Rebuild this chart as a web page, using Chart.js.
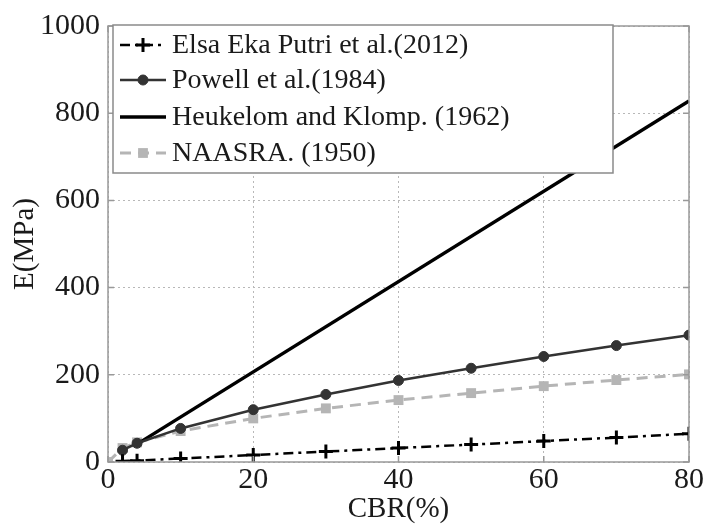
<!DOCTYPE html>
<html lang="en">
<head>
  <meta charset="UTF-8" />
  <title>E vs CBR</title>
  <script src="https://cdn.jsdelivr.net/npm/chart.js"></script>
  <style>
    html, body { margin: 0; padding: 0; background: #fff; }
    #wrap { width: 707px; height: 530px; }
  </style>
</head>
<body>
<div id="wrap"><canvas id="chart" width="707" height="530"></canvas></div>
<script>
// CBR (%) values
const cbrElsa = [2, 4, 10, 20, 30, 40, 50, 60, 70, 80];
const eElsa = [2, 3, 8, 16, 24, 32, 40, 48, 56, 65];

const cbrPowell = [2, 4, 10, 20, 30, 40, 50, 60, 70, 80];
const ePowell = [27, 43, 77, 120, 155, 187, 215, 242, 267, 291];

const cbrHeuk = [4, 80];
const eHeuk = [41, 828];

const cbrNaasra = [0, 2, 4, 10, 20, 30, 40, 50, 60, 70, 80];
const eNaasra = [0, 32, 45, 71, 100, 123, 142, 158, 174, 188, 201];

const xTicks = [0, 20, 40, 60, 80];
const yTicks = [0, 200, 400, 600, 800, 1000];

const FONT = '"Liberation Serif", "Times New Roman", serif';

function pts(xs, ys) {
  return xs.map((x, i) => ({ x: x, y: ys[i] }));
}

// legend box drawn inside the plot (matlab style)
const boxLegend = {
  id: 'boxLegend',
  afterDraw(chart) {
    const ctx = chart.ctx;
    const x0 = 113, y0 = 25, w = 500, h = 148;
    ctx.save();
    ctx.fillStyle = '#fff';
    ctx.fillRect(x0, y0, w, h);
    ctx.strokeStyle = '#8a8a8a';
    ctx.lineWidth = 1.5;
    ctx.strokeRect(x0, y0, w, h);
    const rows = [45, 80, 117, 153];
    chart.data.datasets.forEach((ds, i) => {
      const y = rows[i];
      ctx.save();
      ctx.strokeStyle = ds.borderColor;
      ctx.lineWidth = ds.borderWidth;
      ctx.setLineDash(ds.borderDash || []);
      ctx.beginPath();
      ctx.moveTo(120, y);
      ctx.lineTo(166, y);
      ctx.stroke();
      ctx.restore();
      if (ds.pointRadius > 0) {
        ctx.fillStyle = ds.pointBackgroundColor;
        ctx.strokeStyle = ds.pointBorderColor;
        ctx.lineWidth = ds.pointBorderWidth || 1;
        ctx.setLineDash([]);
        ctx.beginPath();
        if (ds.pointStyle === 'circle') {
          ctx.arc(143, y, ds.pointRadius, 0, Math.PI * 2);
          ctx.fill(); ctx.stroke();
        } else if (ds.pointStyle === 'rect') {
          const r = ds.pointRadius * 0.7;
          ctx.fillRect(143 - r, y - r, 2 * r, 2 * r);
        } else {
          ctx.moveTo(143 - ds.pointRadius, y); ctx.lineTo(143 + ds.pointRadius, y);
          ctx.moveTo(143, y - ds.pointRadius); ctx.lineTo(143, y + ds.pointRadius);
          ctx.stroke();
        }
      }
      ctx.fillStyle = '#1a1a1a';
      ctx.font = '28px ' + FONT;
      ctx.textBaseline = 'middle';
      ctx.textAlign = 'left';
      ctx.fillText(ds.label, 172, y + 1);
    });
    ctx.restore();
  }
};

// grey frame round the plot with small inward ticks
const frame = {
  id: 'frame',
  afterDatasetsDraw(chart) {
    const a = chart.chartArea, ctx = chart.ctx;
    const xs = chart.scales.x, ys = chart.scales.y;
    ctx.save();
    ctx.strokeStyle = '#999';
    ctx.lineWidth = 1.5;
    ctx.strokeRect(a.left, a.top, a.right - a.left, a.bottom - a.top);
    ctx.beginPath();
    xTicks.forEach(v => {
      const px = xs.getPixelForValue(v);
      ctx.moveTo(px, a.bottom); ctx.lineTo(px, a.bottom - 6);
      ctx.moveTo(px, a.top); ctx.lineTo(px, a.top + 6);
    });
    yTicks.forEach(v => {
      const py = ys.getPixelForValue(v);
      ctx.moveTo(a.left, py); ctx.lineTo(a.left + 6, py);
      ctx.moveTo(a.right, py); ctx.lineTo(a.right - 6, py);
    });
    ctx.stroke();
    ctx.restore();
  }
};

new Chart(document.getElementById('chart'), {
  type: 'line',
  data: {
    datasets: [
      {
        label: 'Elsa Eka Putri et al.(2012)',
        data: pts(cbrElsa, eElsa),
        borderColor: '#000',
        borderWidth: 2.5,
        borderDash: [10, 5, 3, 5],
        pointStyle: 'cross',
        pointRadius: 7,
        pointBorderWidth: 3,
        pointBorderColor: '#000',
        pointBackgroundColor: '#000'
      },
      {
        label: 'Powell et al.(1984)',
        data: pts(cbrPowell, ePowell),
        borderColor: '#333',
        borderWidth: 2.5,
        pointStyle: 'circle',
        pointRadius: 5,
        pointBorderWidth: 1,
        pointBorderColor: '#333',
        pointBackgroundColor: '#333'
      },
      {
        label: 'Heukelom and Klomp. (1962)',
        data: pts(cbrHeuk, eHeuk),
        borderColor: '#000',
        borderWidth: 3.5,
        pointRadius: 0
      },
      {
        label: 'NAASRA. (1950)',
        data: pts(cbrNaasra, eNaasra),
        borderColor: '#b5b5b5',
        borderWidth: 3,
        borderDash: [11, 7],
        pointStyle: 'rect',
        pointRadius: 7,
        pointBorderWidth: 0,
        pointBorderColor: '#b5b5b5',
        pointBackgroundColor: '#b5b5b5'
      }
    ]
  },
  options: {
    responsive: false,
    animation: false,
    layout: { padding: { top: 22, right: 18, left: 0, bottom: 0 } },
    plugins: { legend: { display: false }, tooltip: { enabled: false } },
    elements: { line: { tension: 0 } },
    scales: {
      x: {
        type: 'linear',
        min: 0, max: 80,
        afterBuildTicks: s => { s.ticks = xTicks.map(v => ({ value: v })); },
        afterFit: s => { s.height = 68; },
        ticks: { color: '#1a1a1a', font: { family: FONT, size: 30 }, padding: 0, maxRotation: 0 },
        grid: { color: '#b8b8b8', lineWidth: 1, drawTicks: false },
        border: { display: false, dash: [2, 3] },
        title: { display: true, text: 'CBR(%)', color: '#1a1a1a', font: { family: FONT, size: 29 }, padding: { top: 0, bottom: 3 } }
      },
      y: {
        min: 0, max: 1000,
        afterBuildTicks: s => { s.ticks = yTicks.map(v => ({ value: v })); },
        afterFit: s => { s.width = 108; },
        ticks: { color: '#1a1a1a', font: { family: FONT, size: 30 }, padding: 8, callback: v => String(v) },
        grid: { color: '#b8b8b8', lineWidth: 1, drawTicks: false },
        border: { display: false, dash: [2, 3] },
        title: { display: true, text: 'E(MPa)', color: '#1a1a1a', font: { family: FONT, size: 29 }, padding: { top: 8, bottom: 0 } }
      }
    }
  },
  plugins: [frame, boxLegend]
});
</script>
</body>
</html>
